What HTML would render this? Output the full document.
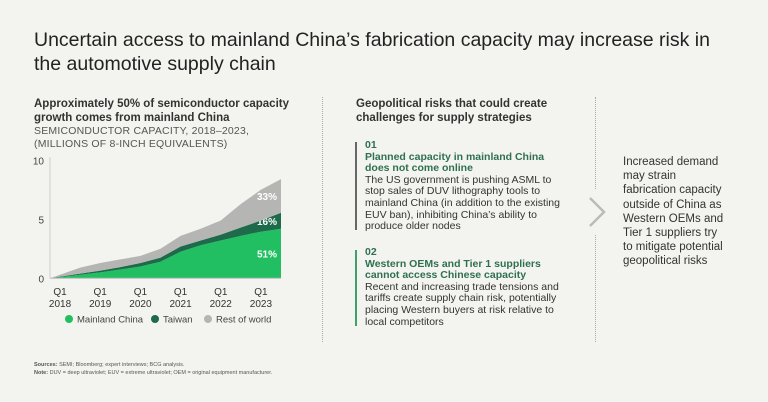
<!DOCTYPE html>
<html><head><meta charset="utf-8">
<style>
body{margin:0;background:#f3f3ef;font-family:"Liberation Sans",sans-serif;color:#222;}
#root{position:relative;width:768px;height:402px;overflow:hidden;background:#f3f3ef;}
.a{position:absolute;margin:0;}
.t{font-size:19.5px;line-height:24px;left:34px;top:28px;width:700px;color:#222;}
.h{font-size:11.5px;font-weight:bold;line-height:14px;color:#333;}
.s{font-size:10.5px;line-height:13px;color:#555;letter-spacing:0.2px;}
.m{font-size:10.5px;line-height:11.6px;color:#333;white-space:nowrap;}
.g{color:#2f7050;font-weight:bold;}
.r{font-size:11.5px;line-height:14.2px;color:#333;}
.f{font-size:5.5px;line-height:8px;color:#555;}
</style></head><body>
<div id="root">
<div class="a t">Uncertain access to mainland China’s fabrication capacity may increase risk in the automotive supply chain</div>
<div class="a h" style="left:34px;top:97px;width:270px">Approximately 50% of semiconductor capacity growth comes from mainland China</div>
<div class="a s" style="left:34px;top:125px;width:270px">SEMICONDUCTOR CAPACITY, 2018–2023,<br>(MILLIONS OF 8-INCH EQUIVALENTS)</div>
<svg class="a" style="left:0;top:150px" width="320" height="185" id="chart"></svg>

<div class="a" style="left:322px;top:97px;height:245px;border-left:1px dotted #aaa"></div>
<div class="a" style="left:595px;top:97px;height:92px;border-left:1px dotted #aaa"></div>
<div class="a" style="left:595px;top:235px;height:107px;border-left:1px dotted #aaa"></div>
<svg class="a" style="left:586px;top:196px" width="22" height="32"><polyline points="4,2 18,16 4,30" fill="none" stroke="#bbb" stroke-width="2.5"/></svg>

<div class="a h" style="left:356px;top:97px;width:230px">Geopolitical risks that could create challenges for supply strategies</div>
<div class="a" style="left:355px;top:142px;width:2px;height:88px;background:#666"></div>
<div class="a m" style="left:365px;top:140px"><span class="g">01<br>Planned capacity in mainland China<br>does not come online</span><br>The US government is pushing ASML to<br>stop sales of DUV lithography tools to<br>mainland China (in addition to the existing<br>EUV ban), inhibiting China’s ability to<br>produce older nodes</div>
<div class="a" style="left:355px;top:250px;width:2px;height:76px;background:#3fa06a"></div>
<div class="a m" style="left:365px;top:247px"><span class="g">02<br>Western OEMs and Tier 1 suppliers<br>cannot access Chinese capacity</span><br>Recent and increasing trade tensions and<br>tariffs create supply chain risk, potentially<br>placing Western buyers at risk relative to<br>local competitors</div>

<div class="a r" style="left:623px;top:155px;width:140px">Increased demand<br>may strain<br>fabrication capacity<br>outside of China as<br>Western OEMs and<br>Tier 1 suppliers try<br>to mitigate potential<br>geopolitical risks</div>

<div class="a f" style="left:34px;top:361px"><b>Sources:</b> SEMI; Bloomberg; expert interviews; BCG analysis.<br><b>Note:</b> DUV = deep ultraviolet; EUV = extreme ultraviolet; OEM = original equipment manufacturer.</div>
</div>
<script>
const times=[2017.75,2018,2018.5,2019,2019.5,2020,2020.5,2021,2021.5,2022,2022.5,2023,2023.5];
const mainland=[0,0.1,0.3,0.5,0.75,1.0,1.4,2.25,2.8,3.2,3.6,3.95,4.2];
const taiwan=[0,0.04,0.1,0.15,0.2,0.3,0.35,0.45,0.4,0.5,0.7,0.95,1.35];
const rest=[0,0.16,0.5,0.65,0.65,0.6,0.75,0.9,1.0,1.2,2.0,2.6,2.85];
const yTicks=[0,5,10];
const xTickYears=[2018,2019,2020,2021,2022,2023];
const shares=["51%","16%","33%"];
const legendLabels=["Mainland China","Taiwan","Rest of world"];
const NS="http://www.w3.org/2000/svg";
const svg=document.getElementById('chart');
const X=t=>50+(t-2017.75)/(2023.5-2017.75)*231;
const Y=v=>128.3-v*11.8;
function mk(tag,at){const e=document.createElementNS(NS,tag);for(const k in at)e.setAttribute(k,at[k]);svg.appendChild(e);return e;}
const colors=["#22bf62","#1d6b4b","#b5b5b3"];
const series=[mainland,taiwan,rest];
const names=["area-mainland-china","area-taiwan","area-rest-of-world"];
let base=times.map(()=>0);
series.forEach((s,i)=>{
 const top=base.map((b,j)=>b+s[j]);
 let d=times.map((t,j)=>(j?'L':'M')+X(t)+','+Y(top[j])).join('');
 for(let j=times.length-1;j>=0;j--)d+='L'+X(times[j])+','+Y(base[j]);
 const p=mk('path',{d:d+'Z',fill:colors[i]});
 
 
 const n=times.length-1;
 const lbl=mk('text',{x:X(times[n])-4,y:Y((base[n]+top[n])/2)+4,'text-anchor':'end','font-size':'10','font-weight':'bold',fill:'#fff'});
 lbl.textContent=shares[i];
 
 
 base=top;
});
const ax=mk('line',{x1:50,x2:50,y1:Y(10)-3,y2:Y(0),stroke:'#ccc','stroke-width':1});


const bx=mk('line',{x1:50,x2:281,y1:Y(0),y2:Y(0),stroke:'#bbb','stroke-width':1});


yTicks.forEach(v=>{const e=mk('text',{x:44,y:Y(v)+4,'text-anchor':'end','font-size':'10',fill:'#444'});e.textContent=v;
 
 });
xTickYears.forEach(yr=>{
 const e=mk('text',{x:X(yr),y:145,'text-anchor':'middle','font-size':'10',fill:'#333'});
 
 
 const a=document.createElementNS(NS,'tspan');a.setAttribute('x',X(yr));a.textContent='Q1';e.appendChild(a);
 const b=document.createElementNS(NS,'tspan');b.setAttribute('x',X(yr));b.setAttribute('dy','12');b.textContent=yr;e.appendChild(b);
});
const lx=[69,155,208];
legendLabels.forEach((l,i)=>{
 const c=mk('circle',{cx:lx[i],cy:169,r:4,fill:colors[i]});
 
 
 const t=mk('text',{x:lx[i]+8,y:172.5,'font-size':'9.5',fill:'#444'});t.textContent=l;
 
 
});
</script>
</body></html>
